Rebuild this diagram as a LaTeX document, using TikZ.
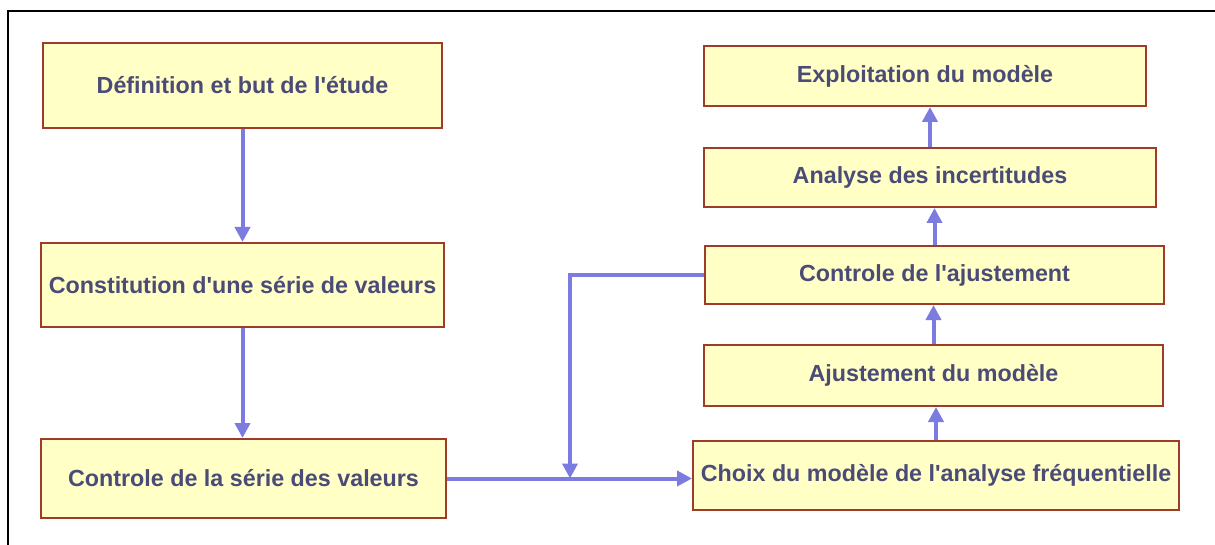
\documentclass[tikz,border=0pt]{standalone}
\usepackage{fontspec}
\setmainfont{Liberation Sans}
\usetikzlibrary{arrows.meta}
\definecolor{boxfill}{HTML}{FFFFC6}
\definecolor{boxline}{HTML}{9E3B2A}
\definecolor{arrowcol}{HTML}{7B7BE0}
\definecolor{textcol}{HTML}{4B4B78}
\newcommand{\apos}{\textquotesingle}
\tikzset{
  stepbox/.style={draw=boxline, line width=2pt, fill=boxfill, inner sep=0pt,
    font=\fontsize{23.3}{28}\selectfont\bfseries, text=textcol},
  arr/.style={draw=arrowcol, line width=4pt,
    -{Triangle[length=15pt,width=15pt]}},
  frameline/.style={draw=black, line width=2pt}
}
\begin{document}
\begin{tikzpicture}[x=1pt,y=1pt]
\useasboundingbox (0,0) rectangle (1215,-545);
\draw[frameline] (8,-545) -- (8,-11) -- (1215,-11);

\node[stepbox, minimum width=399pt, minimum height=85pt] (b1) at (242.5,-85.5) {Définition et but de l\apos étude};
\node[stepbox, minimum width=403pt, minimum height=84pt] (b2) at (242.5,-285) {Constitution d\apos une série de valeurs};
\node[stepbox, minimum width=405pt, minimum height=79pt] (b3) at (243.5,-478.5) {Controle de la série des valeurs};

\node[stepbox, minimum width=442pt, minimum height=60pt] (e) at (925,-76) {Exploitation du modèle};
\node[stepbox, minimum width=452pt, minimum height=59pt] (a) at (930,-177.5) {Analyse des incertitudes};
\node[stepbox, minimum width=459pt, minimum height=58pt] (c) at (934.5,-275) {Controle de l\apos ajustement};
\node[stepbox, minimum width=459pt, minimum height=61pt] (aj) at (933.5,-375.5) {Ajustement du modèle};
\node[stepbox, minimum width=486pt, minimum height=69pt] (ch) at (936,-475.5) {Choix du modèle de l\apos analyse fréquentielle};

\coordinate (fb) at (570,-276);

\draw[arr] (b1.south) -- (b1.south |- b2.north);
\draw[arr] (b2.south) -- (b2.south |- b3.north);
\draw[arr] (b3.east) -- (b3.east -| ch.west);
\draw[arr] (c.west) -| (fb |- b3.east);
\draw[arr] (ch.north) -- (ch.north |- aj.south);
\draw[arr] (aj.north) -- (aj.north |- c.south);
\draw[arr] (c.north) -- (c.north |- a.south);
\draw[arr] (a.north) -- (a.north |- e.south);
\end{tikzpicture}
\end{document}
